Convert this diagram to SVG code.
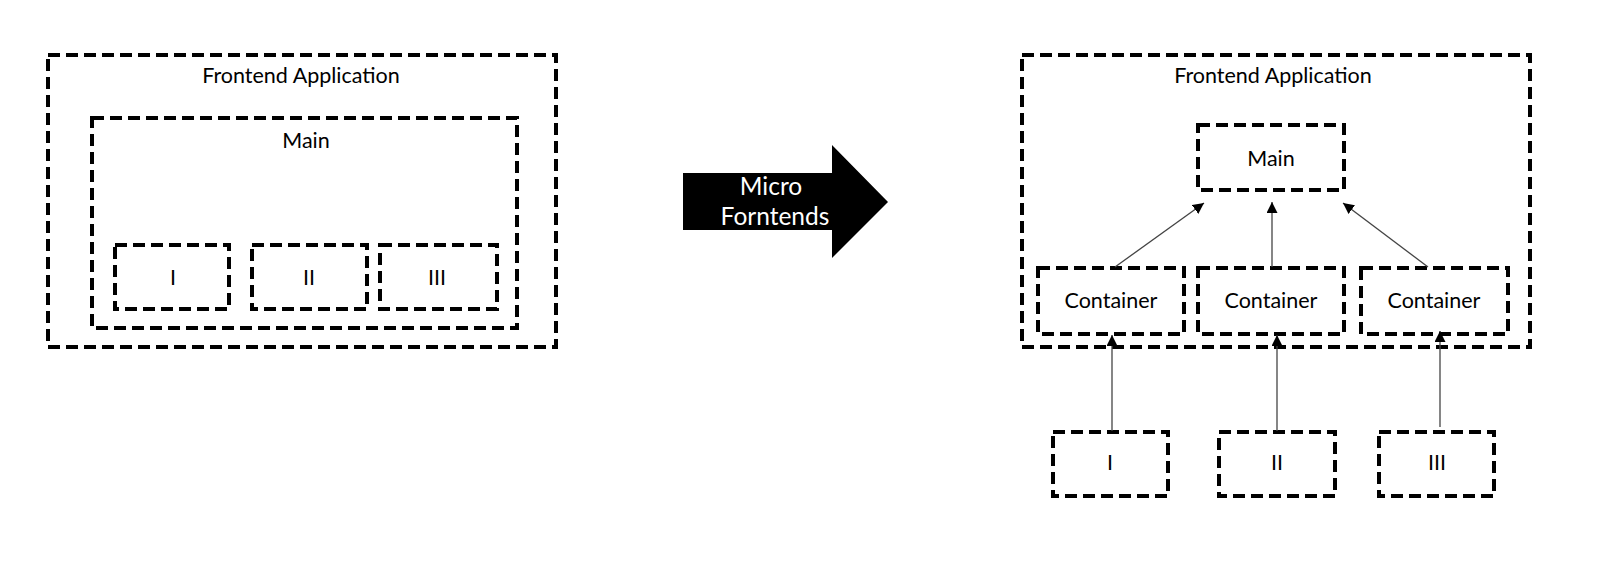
<svg xmlns="http://www.w3.org/2000/svg" width="1600" height="566" viewBox="0 0 1600 566">
  <style>
    .box { fill: none; stroke: #000; stroke-width: 4; stroke-dasharray: 12 6; }
    .lbl { font-family: Lato, "Open Sans", "Liberation Sans", sans-serif; font-size: 21.5px; fill: #000; text-anchor: middle; }
    .big { font-family: Lato, "Open Sans", "Liberation Sans", sans-serif; font-size: 24.5px; fill: #fff; text-anchor: middle; }
    .conn { stroke: #444; stroke-width: 1.3; fill: none; marker-end: url(#ah); }
  </style>
  <defs>
    <marker id="ah" viewBox="0 0 10 10" refX="10" refY="5" markerWidth="11" markerHeight="11" markerUnits="userSpaceOnUse" orient="auto">
      <path d="M0,0 L10,5 L0,10 Z" fill="#000"/>
    </marker>
  </defs>
  <rect width="1600" height="566" fill="#fff"/>

  <!-- Left side -->
  <g id="left-frontend">
    <rect class="box" x="48" y="55" width="508" height="292"/>
    <text class="lbl" x="301" y="83">Frontend Application</text>
  </g>
  <g id="left-main">
    <rect class="box" x="92" y="118" width="425" height="210"/>
    <text class="lbl" x="306" y="148">Main</text>
  </g>
  <g id="left-I">
    <rect class="box" x="115" y="245" width="114" height="64"/>
    <text class="lbl" x="173" y="285">I</text>
  </g>
  <g id="left-II">
    <rect class="box" x="252" y="245" width="115" height="64"/>
    <text class="lbl" x="309" y="285">II</text>
  </g>
  <g id="left-III">
    <rect class="box" x="380" y="245" width="117" height="64"/>
    <text class="lbl" x="437" y="285">III</text>
  </g>

  <!-- Big arrow -->
  <g id="transform-arrow">
    <polygon points="683,173 832,173 832,145 888,202 832,258 832,230 683,230" fill="#000"/>
    <text class="big" x="771" y="195">Micro</text>
    <text class="big" x="775" y="225">Forntends</text>
  </g>

  <!-- Right side -->
  <g id="right-frontend">
    <rect class="box" x="1022" y="55" width="508" height="292"/>
    <text class="lbl" x="1273" y="83">Frontend Application</text>
  </g>
  <g id="right-main">
    <rect class="box" x="1198" y="125" width="146" height="65"/>
    <text class="lbl" x="1271" y="166">Main</text>
  </g>
  <g id="container-1">
    <rect class="box" x="1038" y="268" width="146" height="66"/>
    <text class="lbl" x="1111" y="308">Container</text>
  </g>
  <g id="container-2">
    <rect class="box" x="1198" y="268" width="146" height="66"/>
    <text class="lbl" x="1271" y="308">Container</text>
  </g>
  <g id="container-3">
    <rect class="box" x="1361" y="268" width="147" height="66"/>
    <text class="lbl" x="1434" y="308">Container</text>
  </g>
  <g id="right-I">
    <rect class="box" x="1053" y="432" width="115" height="64"/>
    <text class="lbl" x="1110" y="470">I</text>
  </g>
  <g id="right-II">
    <rect class="box" x="1219" y="432" width="116" height="64"/>
    <text class="lbl" x="1277" y="470">II</text>
  </g>
  <g id="right-III">
    <rect class="box" x="1379" y="432" width="115" height="64"/>
    <text class="lbl" x="1437" y="470">III</text>
  </g>

  <g id="connectors">
    <line class="conn" x1="1115" y1="267" x2="1204" y2="203"/>
    <line class="conn" x1="1272" y1="267" x2="1272" y2="202"/>
    <line class="conn" x1="1428" y1="267" x2="1343" y2="203"/>
    <line class="conn" x1="1112" y1="431" x2="1112" y2="335"/>
    <line class="conn" x1="1277" y1="431" x2="1277" y2="335"/>
    <line class="conn" x1="1440" y1="427" x2="1440" y2="331"/>
  </g>
</svg>
